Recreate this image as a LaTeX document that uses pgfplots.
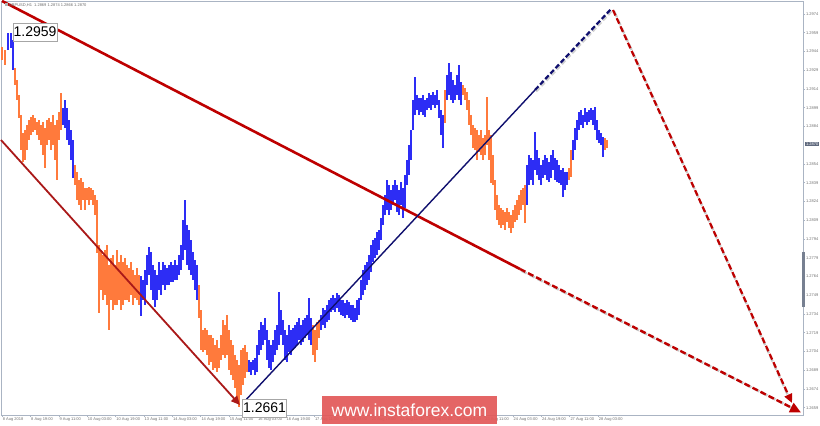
\documentclass[border=0pt]{standalone}
\usepackage{pgfplots}
\pgfplotsset{compat=1.18}
\usepackage{pgfplotstable}
\usepackage{fontspec}
\setmainfont{Liberation Sans}
\usetikzlibrary{arrows.meta}
\definecolor{barorange}{RGB}{255,122,60}
\definecolor{barblue}{RGB}{45,45,245}
\definecolor{wavered}{RGB}{190,0,0}
\definecolor{thinred}{RGB}{170,25,25}
\definecolor{navyline}{RGB}{15,15,110}
\definecolor{framec}{RGB}{170,180,195}
\definecolor{ticktext}{RGB}{110,110,110}
\definecolor{markbg}{RGB}{95,105,125}
\definecolor{wm}{RGB}{226,88,88}

\pgfplotstableread{
x lo hi
2 1.29372 1.29476
5 1.29332 1.29452
15 1.29172 1.29308
17 1.29052 1.29212
19 1.28908 1.29092
21 1.28652 1.28932
23 1.28556 1.28788
25 1.28572 1.28812
27 1.28652 1.28852
29 1.28732 1.28892
31 1.28772 1.28916
33 1.28796 1.28932
35 1.28812 1.28908
37 1.28772 1.28876
39 1.28732 1.28892
41 1.28692 1.28852
43 1.28612 1.28876
45 1.28508 1.28828
47 1.28692 1.28892
49 1.28732 1.28908
51 1.28652 1.28876
53 1.28692 1.28932
55 1.28572 1.28852
57 1.28412 1.28892
59 1.28732 1.28956
61 1.28812 1.29108
75 1.28372 1.28532
77 1.28252 1.28476
79 1.28212 1.28412
81 1.28172 1.28428
83 1.28252 1.28396
85 1.28172 1.28348
87 1.28252 1.28348
89 1.28212 1.28356
91 1.28252 1.28348
93 1.28212 1.28332
95 1.28132 1.28292
97 1.27828 1.28252
99 1.27348 1.27892
101 1.27532 1.27852
103 1.27452 1.27812
105 1.27492 1.27852
107 1.27412 1.27892
109 1.27212 1.27732
111 1.27452 1.27788
113 1.27372 1.27812
115 1.27412 1.27732
117 1.27412 1.27852
119 1.27452 1.27756
121 1.27372 1.27812
123 1.27412 1.27756
125 1.27452 1.27788
127 1.27452 1.27732
129 1.27436 1.27708
131 1.27492 1.27756
133 1.27412 1.27692
135 1.27468 1.27652
137 1.27452 1.27708
139 1.27412 1.27652
199 1.27308 1.27572
201 1.27052 1.27372
203 1.27036 1.27212
205 1.27052 1.27228
207 1.27012 1.27212
209 1.26932 1.27172
211 1.26956 1.27172
213 1.26892 1.27148
215 1.26908 1.27092
217 1.26876 1.27132
219 1.26908 1.27068
221 1.26972 1.27172
223 1.27012 1.27292
225 1.26988 1.27252
227 1.27012 1.27332
229 1.26892 1.27212
231 1.26852 1.27132
233 1.26812 1.27092
235 1.26748 1.27012
237 1.26652 1.26972
239 1.26596 1.26932
241 1.26692 1.27052
243 1.26772 1.27068
245 1.26828 1.27092
247 1.26876 1.27036
313 1.27012 1.27252
315 1.26956 1.27212
317 1.27052 1.27276
319 1.27148 1.27292
445 1.28868 1.29132
463 1.29092 1.29172
465 1.29052 1.29148
467 1.28972 1.29116
469 1.28852 1.29052
471 1.28772 1.28932
473 1.28668 1.28852
475 1.28652 1.28828
477 1.28572 1.28812
479 1.28636 1.28772
481 1.28612 1.28812
483 1.28572 1.28748
485 1.28612 1.28772
487 1.28692 1.29076
489 1.28572 1.28812
491 1.28388 1.28772
493 1.28372 1.28612
495 1.28172 1.28412
497 1.28092 1.28292
499 1.28052 1.28212
501 1.28028 1.28188
503 1.28052 1.28172
505 1.28012 1.28156
507 1.28076 1.28188
509 1.28028 1.28156
511 1.27988 1.28132
513 1.28028 1.28172
515 1.28076 1.28212
517 1.28092 1.28252
519 1.28132 1.28292
521 1.28172 1.28332
523 1.28212 1.28348
525 1.28068 1.28372
569 1.28412 1.28508
571 1.28436 1.28652
605 1.28652 1.28748
607 1.28668 1.28732
}\orangebars

\pgfplotstableread{
x lo hi
8 1.29452 1.29588
11 1.29468 1.29588
13 1.29292 1.29532
63 1.28852 1.28988
65 1.28828 1.29052
67 1.28732 1.28988
69 1.28692 1.28892
71 1.28572 1.28812
73 1.28428 1.28732
141 1.27324 1.27644
143 1.27452 1.27612
145 1.27412 1.27692
147 1.27572 1.27812
149 1.27652 1.27876
151 1.27532 1.27836
153 1.27452 1.27732
155 1.27396 1.27692
157 1.27452 1.27652
159 1.27532 1.27756
161 1.27492 1.27692
163 1.27572 1.27756
165 1.27532 1.27732
167 1.27572 1.27708
169 1.27572 1.27732
171 1.27596 1.27756
173 1.27596 1.27732
175 1.27612 1.27772
177 1.27612 1.27732
179 1.27652 1.27812
181 1.27692 1.27892
183 1.27772 1.28092
185 1.27852 1.28252
187 1.27732 1.28052
189 1.27692 1.28012
191 1.27652 1.27932
193 1.27612 1.27836
195 1.27532 1.27772
197 1.27452 1.27732
249 1.26876 1.26972
251 1.26852 1.26956
253 1.26892 1.26972
255 1.26852 1.26988
257 1.26876 1.27092
259 1.27012 1.27212
261 1.27052 1.27276
263 1.27092 1.27252
265 1.27132 1.27308
267 1.26972 1.27212
269 1.26908 1.27132
271 1.26892 1.27092
273 1.26956 1.27132
275 1.27012 1.27212
277 1.27052 1.27252
279 1.27092 1.27516
281 1.27172 1.27372
283 1.27092 1.27292
285 1.26972 1.27212
287 1.26956 1.27172
289 1.27036 1.27252
291 1.27012 1.27212
293 1.27052 1.27228
295 1.27068 1.27252
297 1.27092 1.27276
299 1.27132 1.27308
301 1.27092 1.27252
303 1.27116 1.27292
305 1.27148 1.27308
307 1.27172 1.27332
309 1.27132 1.27468
311 1.27092 1.27308
321 1.27212 1.27332
323 1.27252 1.27388
325 1.27228 1.27372
327 1.27276 1.27412
329 1.27292 1.27452
331 1.27356 1.27468
333 1.27372 1.27492
335 1.27356 1.27468
337 1.27388 1.27508
339 1.27356 1.27492
341 1.27332 1.27452
343 1.27324 1.27452
345 1.27308 1.27428
347 1.27332 1.27452
349 1.27308 1.27436
351 1.27292 1.27412
353 1.27276 1.27412
355 1.27276 1.27388
357 1.27292 1.27452
359 1.27332 1.27468
361 1.27452 1.27612
363 1.27492 1.27692
365 1.27532 1.27732
367 1.27572 1.27756
369 1.27612 1.27812
371 1.27676 1.27892
373 1.27756 1.27932
375 1.27788 1.27948
377 1.27812 1.27996
379 1.27852 1.28012
381 1.27932 1.28108
383 1.28052 1.28212
385 1.28132 1.28292
387 1.28172 1.28412
389 1.28132 1.28372
391 1.28172 1.28332
393 1.28212 1.28372
395 1.28252 1.28412
397 1.28156 1.28372
399 1.28132 1.28332
401 1.28212 1.28396
403 1.28108 1.28348
405 1.28188 1.28452
407 1.28372 1.28572
409 1.28452 1.28692
411 1.28572 1.28812
413 1.28812 1.29052
415 1.28932 1.29236
417 1.28972 1.29092
419 1.28932 1.29068
421 1.28956 1.29068
423 1.28932 1.29092
425 1.28916 1.29052
427 1.28972 1.29068
429 1.28988 1.29108
431 1.28972 1.29092
433 1.29012 1.29116
435 1.28988 1.29092
437 1.29012 1.29132
439 1.28908 1.29052
441 1.28772 1.28972
443 1.28668 1.28932
447 1.29052 1.29252
449 1.29092 1.29348
451 1.29052 1.29276
453 1.29028 1.29212
455 1.29052 1.29172
457 1.29092 1.29252
459 1.29052 1.29332
461 1.29012 1.29196
527 1.28212 1.28532
529 1.28372 1.28612
531 1.28412 1.28588
533 1.28372 1.28572
535 1.28492 1.28796
537 1.28452 1.28652
539 1.28412 1.28588
541 1.28372 1.28532
543 1.28428 1.28572
545 1.28452 1.28612
547 1.28412 1.28588
549 1.28396 1.28556
551 1.28428 1.28612
553 1.28492 1.28652
555 1.28412 1.28588
557 1.28396 1.28572
559 1.28388 1.28532
561 1.28372 1.28492
563 1.28276 1.28508
565 1.28332 1.28476
567 1.28372 1.28476
573 1.28572 1.28732
575 1.28652 1.28828
577 1.28732 1.28892
579 1.28812 1.28956
581 1.28852 1.28972
583 1.28828 1.28932
585 1.28876 1.28988
587 1.28852 1.28956
589 1.28876 1.28972
591 1.28892 1.28988
593 1.28852 1.28972
595 1.28812 1.28996
597 1.28732 1.28892
599 1.28708 1.28812
601 1.28692 1.28788
603 1.28596 1.28756
}\bluebars

\begin{document}
\begin{tikzpicture}
\useasboundingbox (0,0) rectangle (820pt,426pt);
\begin{axis}[
  at={(1pt,11pt)}, anchor=south west,
  scale only axis, width=802pt, height=413.5pt,
  xmin=1, xmax=803, ymin=1.26532, ymax=1.29840,
  clip=false,
  axis line style={draw=framec, line width=0.8pt},
  axis background/.style={fill=white},
  xtick={2,30.4,58.8,87.1,115.5,143.9,172.3,200.7,229,257.4,285.8,314.2,342.6,371,399.4,427.7,456.1,484.5,512.9,541.3,569.7,598},
  xticklabels={8 Aug 2018,8 Aug 19:00,9 Aug 11:00,10 Aug 03:00,10 Aug 19:00,13 Aug 11:00,14 Aug 03:00,14 Aug 19:00,15 Aug 11:00,16 Aug 03:00,16 Aug 19:00,17 Aug 11:00,20 Aug 03:00,20 Aug 19:00,21 Aug 11:00,22 Aug 03:00,22 Aug 19:00,23 Aug 11:00,24 Aug 03:00,24 Aug 19:00,27 Aug 11:00,28 Aug 03:00},
  ytick={1.2659,1.2674,1.2689,1.2704,1.2719,1.2734,1.2749,1.2764,1.2779,1.2794,1.2809,1.2824,1.2839,1.2854,1.2884,1.2899,1.2914,1.2929,1.2944,1.2959,1.2974},
  yticklabels={1.2659,1.2674,1.2689,1.2704,1.2719,1.2734,1.2749,1.2764,1.2779,1.2794,1.2809,1.2824,1.2839,1.2854,1.2884,1.2899,1.2914,1.2929,1.2944,1.2959,1.2974},
  xtick pos=bottom, ytick pos=right, yticklabel pos=right,
  tick align=outside, major tick length=2pt,
  tick style={draw=framec, line width=0.5pt},
  xticklabel style={anchor=north west, font=\fontsize{4}{5}\selectfont, text=ticktext, inner sep=0.6pt},
  yticklabel style={anchor=west, font=\fontsize{4}{5}\selectfont, text=ticktext, inner sep=0.8pt},
  /pgf/number format/assume math mode=true,
]
\addplot[only marks, mark=*, mark size=0pt, mark options={draw=none, fill=none}, forget plot,
  error bars/.cd, y dir=plus, y explicit, error mark=none,
  error bar style={draw=barorange, line width=1.05pt}]
  table[x=x, y=lo, y error expr=\thisrow{hi}-\thisrow{lo}] {\orangebars};
\addplot[only marks, mark=*, mark size=0pt, mark options={draw=none, fill=none}, forget plot,
  error bars/.cd, y dir=plus, y explicit, error mark=none,
  error bar style={draw=barblue, line width=1.05pt}]
  table[x=x, y=lo, y error expr=\thisrow{hi}-\thisrow{lo}] {\bluebars};

% channel line (thick)
\draw[wavered, line width=2.6pt] (axis cs:2,1.29844) -- (axis cs:520,1.27700);
\draw[black!22, line width=2.4pt, dash pattern=on 6pt off 3pt, shift={(1.3pt,-1.6pt)}] (axis cs:520,1.27700) -- (axis cs:796,1.26580);
\draw[wavered, line width=2.4pt, dash pattern=on 6pt off 3pt, -{Triangle[length=11pt,width=10pt]}] (axis cs:520,1.27700) -- (axis cs:801,1.26552);
% lower thin red line
\draw[thinred, line width=1.8pt, -{Triangle[length=9pt,width=8pt]}] (axis cs:1,1.28732) -- (axis cs:240,1.26612);
% navy line
\draw[navyline, line width=1.4pt] (axis cs:243,1.26628) -- (axis cs:535,1.29132);
\draw[black!18, line width=2.2pt, dash pattern=on 5pt off 2.5pt, shift={(1.2pt,-1.5pt)}] (axis cs:535,1.29132) -- (axis cs:612,1.29788);
\draw[navyline, line width=2.2pt, dash pattern=on 5pt off 2.5pt] (axis cs:535,1.29132) -- (axis cs:612,1.29788);
% steep dashed red line
\draw[black!22, line width=2.2pt, dash pattern=on 6pt off 3pt, shift={(1.3pt,-1.6pt)}] (axis cs:613,1.29772) -- (axis cs:789,1.26660);
\draw[wavered, line width=2.2pt, dash pattern=on 6pt off 3pt, -{Triangle[length=9pt,width=8pt]}] (axis cs:613,1.29772) -- (axis cs:792,1.26628);

% scroll marker on the price scale
\fill[markbg!85] (axis cs:802,1.27396) rectangle (axis cs:804.5,1.27836);

\coordinate (lblA) at (axis cs:35,1.29596);
\coordinate (lblB) at (axis cs:264.5,1.26588);
\coordinate (wmc) at (axis cs:409.5,1.26572);
\coordinate (cur) at (axis cs:803,1.2870);
\coordinate (ttl) at (axis cs:5,1.29812);
\end{axis}
% title line
\node[anchor=west, font=\fontsize{4}{5}\selectfont, text=ticktext, inner sep=0pt] at (ttl) {\textcolor{gray!60}{\rule{3pt}{3pt}}\,GBPUSD,H1\ \ 1.2869 1.2874 1.2866 1.2870};
% current price marker
\node[anchor=west, fill=markbg, text=white, font=\fontsize{4}{5}\selectfont, inner xsep=0.8pt, inner ysep=1pt] at ([xshift=2pt]cur) {1.2870};
% value labels
\node[draw=gray!70, fill=white, line width=0.6pt, inner sep=0pt, minimum width=44pt, minimum height=18pt, font=\fontsize{14}{14}\selectfont] at (lblA) {1.2959};
\node[draw=gray!70, fill=white, line width=0.6pt, inner sep=0pt, minimum width=44pt, minimum height=18pt, font=\fontsize{14}{14}\selectfont] at (lblB) {1.2661};
% watermark
\node[fill=wm, fill opacity=0.92, text opacity=1, text=white, minimum width=175pt, minimum height=28pt, inner sep=0pt, font=\fontsize{17.5}{18}\selectfont] at (wmc) {www.instaforex.com};
\end{tikzpicture}
\end{document}
